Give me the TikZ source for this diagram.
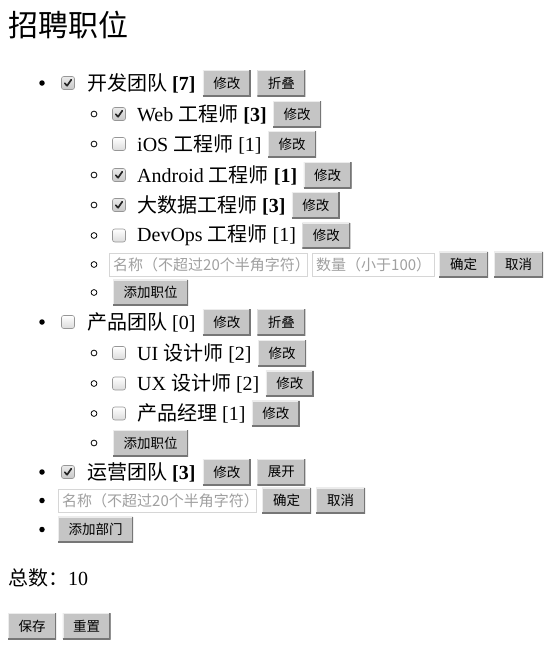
\documentclass[tikz,border=0pt]{standalone}
\usepackage{fontspec}
\setmainfont{Liberation Serif}
\newfontfamily\cjk{Noto Sans CJK SC}
\usetikzlibrary{calc}
\definecolor{btngray}{RGB}{197,197,197}
\definecolor{btndark}{RGB}{118,118,118}
\definecolor{btnlight}{RGB}{236,236,236}
\definecolor{inpborder}{RGB}{214,214,214}
\definecolor{phgray}{RGB}{160,160,160}
\definecolor{cbborder}{RGB}{150,150,150}
\newcommand\zh[1]{{\cjk #1}}
\newcommand\tickmark[1]{\draw[tickline] ([shift={(-3.3,0.2)}]#1.center) -- ([shift={(-0.9,2.7)}]#1.center) -- ([shift={(3.3,-3.3)}]#1.center);}
\begin{document}
\begin{tikzpicture}[x=1pt,y=-1pt,
  lbl/.style={anchor=west,inner sep=0pt,font=\fontsize{20}{24}\selectfont},
  ttl/.style={anchor=west,inner sep=0pt,font=\fontsize{30}{36}\selectfont\cjk},
  btn/.style={anchor=west,fill=btngray,draw=none,minimum height=26pt,inner xsep=10.5pt,inner ysep=0pt,
    font=\fontsize{13.5}{16}\selectfont\cjk,
    path picture={
      \draw[btnlight,line width=2pt] (path picture bounding box.south west) -- (path picture bounding box.north west) -- (path picture bounding box.north east);
      \draw[btndark,line width=3pt] (path picture bounding box.south west) -- (path picture bounding box.south east) -- (path picture bounding box.north east);
    }},
  cbox/.style={draw=cbborder,rounded corners=2.2pt,minimum size=13pt,inner sep=0pt,line width=0.6pt,top color=white,bottom color=black!14},
  cboxon/.style={cbox,top color=black!8,bottom color=black!22},
  tickline/.style={line width=1.7pt,black!85,line cap=round,line join=round},
  bul/.style={circle,fill=black,minimum size=5.5pt,inner sep=0pt},
  subbul/.style={circle,draw=black,line width=0.8pt,minimum size=5.8pt,inner sep=0pt},
  inp/.style={anchor=west,draw=inpborder,fill=white,minimum height=23pt,inner sep=0pt,line width=0.8pt},
  ph/.style={anchor=west,inner sep=0pt,text=phgray,font=\fontsize{15}{18}\selectfont\cjk}
]
\useasboundingbox (0,0) rectangle (550,649);

% title
\node[ttl] (title) at (8,25) {招聘职位};

% ---------- team 1 ----------
\node[bul] (d1) at (42,83) {};
\node[cboxon] (c1) at (68,83) {};
\tickmark{c1}
\node[lbl] (t1) at (87,83) {\zh{开发团队} \textbf{[7]}};
\node[btn] (t1e) at ([xshift=7pt]t1.east) {修改};
\node[btn] (t1f) at ([xshift=6pt]t1e.east) {折叠};

\node[subbul] (s11) at (94,114) {};
\node[cboxon] (c11) at (119,114) {};
\tickmark{c11}
\node[lbl] (t11) at (137,114) {Web \zh{工程师} \textbf{[3]}};
\node[btn] (t11e) at ([xshift=6pt]t11.east) {修改};

\node[subbul] (s12) at (94,144) {};
\node[cbox] (c12) at (119,144) {};
\node[lbl] (t12) at (137,144) {iOS \zh{工程师} [1]};
\node[btn] (t12e) at ([xshift=6pt]t12.east) {修改};

\node[subbul] (s13) at (94,175) {};
\node[cboxon] (c13) at (119,175) {};
\tickmark{c13}
\node[lbl] (t13) at (137,175) {Android \zh{工程师} \textbf{[1]}};
\node[btn] (t13e) at ([xshift=6pt]t13.east) {修改};

\node[subbul] (s14) at (94,205) {};
\node[cboxon] (c14) at (119,205) {};
\tickmark{c14}
\node[lbl] (t14) at (137,205) {\zh{大数据工程师} \textbf{[3]}};
\node[btn] (t14e) at ([xshift=6pt]t14.east) {修改};

\node[subbul] (s15) at (94,235.5) {};
\node[cbox] (c15) at (119,235.5) {};
\node[lbl] (t15) at (137,235.5) {DevOps \zh{工程师} [1]};
\node[btn] (t15e) at ([xshift=6pt]t15.east) {修改};

\node[subbul] (s16) at (94,264.5) {};
\node[inp,minimum width=198pt] (i1) at (109,264.5) {};
\node[ph] (p1) at ([xshift=4pt]i1.west) {名称（不超过20个半角字符）};
\node[inp,minimum width=122pt] (i2) at (312,264.5) {};
\node[ph] (p2) at ([xshift=4pt]i2.west) {数量（小于100）};
\node[btn,minimum width=49pt] (ok1) at (439,264.5) {确定};
\node[btn,minimum width=49pt] (no1) at (494,264.5) {取消};

\node[subbul] (s17) at (94,292.5) {};
\node[btn] (add1) at (113,292.5) {添加职位};

% ---------- team 2 ----------
\node[bul] (d2) at (42,322) {};
\node[cbox] (c2) at (68,322) {};
\node[lbl] (t2) at (87,322) {\zh{产品团队} [0]};
\node[btn] (t2e) at ([xshift=7pt]t2.east) {修改};
\node[btn] (t2f) at ([xshift=6pt]t2e.east) {折叠};

\node[subbul] (s21) at (94,353) {};
\node[cbox] (c21) at (119,353) {};
\node[lbl] (t21) at (137,353) {UI \zh{设计师} [2]};
\node[btn] (t21e) at ([xshift=6pt]t21.east) {修改};

\node[subbul] (s22) at (94,383.5) {};
\node[cbox] (c22) at (119,383.5) {};
\node[lbl] (t22) at (137,383.5) {UX \zh{设计师} [2]};
\node[btn] (t22e) at ([xshift=6pt]t22.east) {修改};

\node[subbul] (s23) at (94,413.5) {};
\node[cbox] (c23) at (119,413.5) {};
\node[lbl] (t23) at (137,413.5) {\zh{产品经理} [1]};
\node[btn] (t23e) at ([xshift=6pt]t23.east) {修改};

\node[subbul] (s24) at (94,443) {};
\node[btn] (add2) at (113,443) {添加职位};

% ---------- team 3 ----------
\node[bul] (d3) at (42,472) {};
\node[cboxon] (c3) at (68,472) {};
\tickmark{c3}
\node[lbl] (t3) at (87,472) {\zh{运营团队} \textbf{[3]}};
\node[btn] (t3e) at ([xshift=7pt]t3.east) {修改};
\node[btn] (t3f) at ([xshift=6pt]t3e.east) {展开};

\node[bul] (d4) at (42,500.5) {};
\node[inp,minimum width=198pt] (i3) at (58,500.5) {};
\node[ph] (p3) at ([xshift=4pt]i3.west) {名称（不超过20个半角字符）};
\node[btn,minimum width=49pt] (ok2) at (262,500.5) {确定};
\node[btn,minimum width=49pt] (no2) at (316,500.5) {取消};

\node[bul] (d5) at (42,529.5) {};
\node[btn] (add3) at (58,529.5) {添加部门};

% ---------- footer ----------
\node[lbl] (total) at (8,578) {\zh{总数：}10};
\node[btn] (save) at (8,626) {保存};
\node[btn] (reset) at ([xshift=6pt]save.east) {重置};
\end{tikzpicture}
\end{document}
